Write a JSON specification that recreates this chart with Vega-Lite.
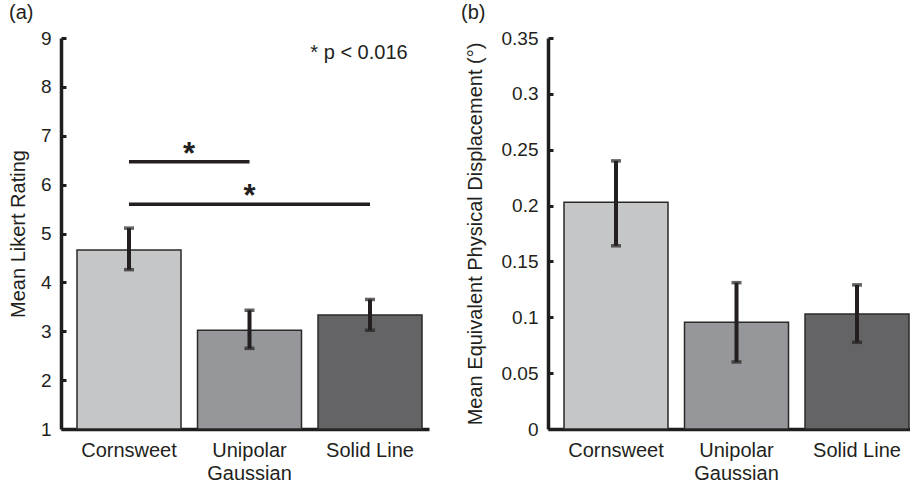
{
  "$schema": "https://vega.github.io/schema/vega-lite/v6.json",
  "padding": {"left": 8, "top": 3, "right": 0, "bottom": 0},
  "background": "white",
  "spacing": 32,
  "config": {
    "font": "Liberation Sans",
    "view": {"stroke": null},
    "axis": {"domainColor": "#1e1e1e", "domainWidth": 3.5, "tickColor": "#1e1e1e", "tickWidth": 3, "labelColor": "#231f20", "titleColor": "#231f20", "labelFont": "Liberation Sans", "titleFont": "Liberation Sans", "grid": false, "titleFontWeight": "normal"},
    "title": {"fontSize": 20, "fontWeight": "normal", "color": "#231f20", "anchor": "start", "frame": "group"}
  },
  "datasets": {
    "likert": [
      {"condition": "Cornsweet", "mean": 4.66, "lo": 4.26, "hi": 5.11},
      {"condition": "Unipolar Gaussian", "mean": 3.02, "lo": 2.65, "hi": 3.43},
      {"condition": "Solid Line", "mean": 3.33, "lo": 3.02, "hi": 3.65}
    ],
    "displacement": [
      {"condition": "Cornsweet", "mean": 0.203, "lo": 0.164, "hi": 0.240},
      {"condition": "Unipolar Gaussian", "mean": 0.0955, "lo": 0.060, "hi": 0.131},
      {"condition": "Solid Line", "mean": 0.103, "lo": 0.0776, "hi": 0.129}
    ]
  },
  "hconcat": [
    {
      "width": 368,
      "height": 391,
      "title": {"text": "(a)", "dx": -52, "offset": 6},
      "data": {"name": "likert"},
      "layer": [
        {
          "mark": {"type": "bar", "stroke": "#2a2a2a", "strokeWidth": 1.5},
          "encoding": {
            "x": {"field": "condition", "type": "nominal", "sort": null,
              "scale": {"domain": ["Cornsweet", "Unipolar Gaussian", "Solid Line"], "paddingInner": 0.137, "paddingOuter": 0.0954, "align": 0.696},
              "axis": {"title": null, "ticks": false, "labelAngle": 0, "labelFontSize": 20, "labelPadding": 11, "labelLineHeight": 23,
                "labelExpr": "datum.value == 'Unipolar Gaussian' ? ['Unipolar', 'Gaussian'] : datum.value"}},
            "y": {"field": "mean", "type": "quantitative",
              "scale": {"domain": [1, 9], "nice": false, "zero": false},
              "axis": {"title": "Mean Likert Rating", "values": [1, 2, 3, 4, 5, 6, 7, 8, 9], "titleFontSize": 20, "labelFontSize": 19, "tickSize": -5, "labelPadding": 15, "titlePadding": 12}},
            "y2": {"datum": 1},
            "color": {"field": "condition", "type": "nominal", "sort": null,
              "scale": {"domain": ["Cornsweet", "Unipolar Gaussian", "Solid Line"], "range": ["#c5c6c8", "#96979a", "#646466"]},
              "legend": null}
          }
        },
        {
          "mark": {"type": "rule", "strokeWidth": 4, "color": "#231f20"},
          "encoding": {
            "x": {"field": "condition", "type": "nominal", "sort": null},
            "y": {"field": "lo", "type": "quantitative"},
            "y2": {"field": "hi"}
          }
        },
        {
          "mark": {"type": "tick", "size": 10, "thickness": 3.5, "color": "#231f20"},
          "encoding": {
            "x": {"field": "condition", "type": "nominal", "sort": null},
            "y": {"field": "lo", "type": "quantitative"}
          }
        },
        {
          "mark": {"type": "tick", "size": 10, "thickness": 3.5, "color": "#231f20"},
          "encoding": {
            "x": {"field": "condition", "type": "nominal", "sort": null},
            "y": {"field": "hi", "type": "quantitative"}
          }
        },
        {
          "data": {"values": [
            {"from": "Cornsweet", "to": "Unipolar Gaussian", "y": 6.47},
            {"from": "Cornsweet", "to": "Solid Line", "y": 5.6}
          ]},
          "mark": {"type": "rule", "strokeWidth": 3.5, "color": "#231f20"},
          "encoding": {
            "x": {"field": "from", "type": "nominal"},
            "x2": {"field": "to"},
            "y": {"field": "y", "type": "quantitative"}
          }
        },
        {
          "data": {"values": [{"at": "Cornsweet", "y": 6.47, "t": "*"}]},
          "mark": {"type": "text", "fontSize": 31, "fontWeight": "bold", "align": "center", "baseline": "alphabetic", "dx": 60, "dy": 2, "color": "#231f20"},
          "encoding": {
            "x": {"field": "at", "type": "nominal"},
            "y": {"field": "y", "type": "quantitative"},
            "text": {"field": "t"}
          }
        },
        {
          "data": {"values": [{"at": "Unipolar Gaussian", "y": 5.6, "t": "*"}]},
          "mark": {"type": "text", "fontSize": 31, "fontWeight": "bold", "align": "center", "baseline": "alphabetic", "dy": 2, "color": "#231f20"},
          "encoding": {
            "x": {"field": "at", "type": "nominal"},
            "y": {"field": "y", "type": "quantitative"},
            "text": {"field": "t"}
          }
        },
        {
          "data": {"values": [{"at": "Solid Line", "y": 8.57, "t": "* p < 0.016"}]},
          "mark": {"type": "text", "fontSize": 20, "align": "center", "baseline": "alphabetic", "dx": -11, "color": "#231f20"},
          "encoding": {
            "x": {"field": "at", "type": "nominal"},
            "y": {"field": "y", "type": "quantitative"},
            "text": {"field": "t"}
          }
        }
      ]
    },
    {
      "width": 368,
      "height": 391,
      "title": {"text": "(b)", "dx": -87, "offset": 6},
      "data": {"name": "displacement"},
      "layer": [
        {
          "mark": {"type": "bar", "stroke": "#2a2a2a", "strokeWidth": 1.5},
          "encoding": {
            "x": {"field": "condition", "type": "nominal", "sort": null,
              "scale": {"domain": ["Cornsweet", "Unipolar Gaussian", "Solid Line"], "paddingInner": 0.137, "paddingOuter": 0.0954, "align": 0.696},
              "axis": {"title": null, "ticks": false, "labelAngle": 0, "labelFontSize": 20, "labelPadding": 11, "labelLineHeight": 23,
                "labelExpr": "datum.value == 'Unipolar Gaussian' ? ['Unipolar', 'Gaussian'] : datum.value"}},
            "y": {"field": "mean", "type": "quantitative",
              "scale": {"domain": [0, 0.35], "nice": false},
              "axis": {"title": "Mean Equivalent Physical Displacement (°)", "values": [0, 0.05, 0.1, 0.15, 0.2, 0.25, 0.3, 0.35], "format": "~g", "titleFontSize": 20, "labelFontSize": 19, "tickSize": -5, "labelPadding": 15, "titlePadding": 16}},
            "color": {"field": "condition", "type": "nominal", "sort": null,
              "scale": {"domain": ["Cornsweet", "Unipolar Gaussian", "Solid Line"], "range": ["#c5c6c8", "#96979a", "#646466"]},
              "legend": null}
          }
        },
        {
          "mark": {"type": "rule", "strokeWidth": 4, "color": "#231f20"},
          "encoding": {
            "x": {"field": "condition", "type": "nominal", "sort": null},
            "y": {"field": "lo", "type": "quantitative"},
            "y2": {"field": "hi"}
          }
        },
        {
          "mark": {"type": "tick", "size": 10, "thickness": 3.5, "color": "#231f20"},
          "encoding": {
            "x": {"field": "condition", "type": "nominal", "sort": null},
            "y": {"field": "lo", "type": "quantitative"}
          }
        },
        {
          "mark": {"type": "tick", "size": 10, "thickness": 3.5, "color": "#231f20"},
          "encoding": {
            "x": {"field": "condition", "type": "nominal", "sort": null},
            "y": {"field": "hi", "type": "quantitative"}
          }
        }
      ]
    }
  ]
}
